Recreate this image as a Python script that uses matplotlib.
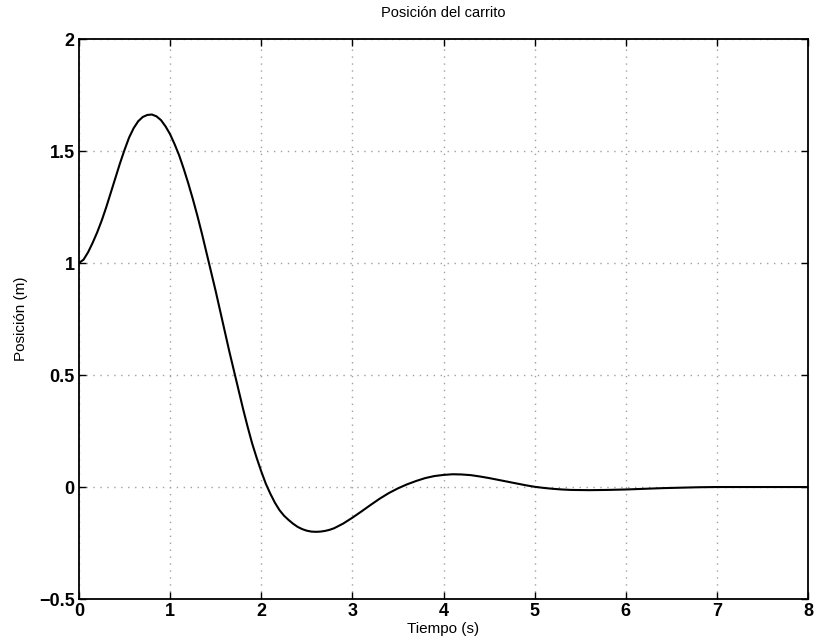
import matplotlib
matplotlib.use("Agg")
import matplotlib.pyplot as plt

# Cart position response
tiempo = [0.0, 0.05, 0.1, 0.15, 0.2, 0.25, 0.3, 0.35, 0.4, 0.45, 0.5, 0.55, 0.6,
          0.65, 0.7, 0.75, 0.8, 0.85, 0.9, 0.95, 1.0, 1.05, 1.1, 1.15, 1.2, 1.25,
          1.3, 1.35, 1.4, 1.45, 1.5, 1.55, 1.6, 1.65, 1.7, 1.75, 1.8, 1.85, 1.9,
          1.95, 2.0, 2.05, 2.1, 2.15, 2.2, 2.25, 2.3, 2.35, 2.4, 2.45, 2.5, 2.55,
          2.6, 2.65, 2.7, 2.75, 2.8, 2.9, 3.0, 3.1, 3.2, 3.3, 3.4, 3.5, 3.6, 3.7,
          3.8, 3.9, 4.0, 4.1, 4.2, 4.3, 4.4, 4.5, 4.6, 4.7, 4.8, 4.9, 5.0, 5.1,
          5.2, 5.3, 5.4, 5.6, 5.8, 6.0, 6.2, 6.4, 6.6, 6.8, 7.0, 7.5, 8.0]
posicion = [1.0, 1.015, 1.048, 1.09, 1.137, 1.19, 1.25, 1.315, 1.38, 1.445, 1.505,
            1.56, 1.602, 1.633, 1.652, 1.661, 1.663, 1.655, 1.638, 1.61, 1.575,
            1.53, 1.48, 1.42, 1.355, 1.285, 1.21, 1.13, 1.045, 0.96, 0.875, 0.785,
            0.695, 0.605, 0.52, 0.435, 0.35, 0.27, 0.195, 0.13, 0.07, 0.015, -0.03,
            -0.07, -0.103, -0.128, -0.147, -0.164, -0.178, -0.188, -0.195, -0.199,
            -0.2, -0.199, -0.196, -0.191, -0.184, -0.163, -0.137, -0.109, -0.08,
            -0.052, -0.027, -0.006, 0.012, 0.027, 0.04, 0.049, 0.054, 0.057, 0.056,
            0.053, 0.047, 0.04, 0.032, 0.024, 0.016, 0.008, 0.001, -0.004, -0.008,
            -0.011, -0.013, -0.014, -0.013, -0.011, -0.008, -0.005, -0.003, -0.001,
            0.0, 0.0, 0.0]

x_ticks = [0, 1, 2, 3, 4, 5, 6, 7, 8]
y_ticks = [-0.5, 0, 0.5, 1, 1.5, 2]
y_tick_labels = ["\u22120.5", "0", "0.5", "1", "1.5", "2"]

plt.rcParams['font.family'] = ['Liberation Sans', 'DejaVu Sans']

fig = plt.figure(figsize=(8.14, 6.43), dpi=100)
ax = fig.add_axes([0.097, 0.0684, 0.8957, 0.8709])

ax.plot(tiempo, posicion, color='black', linewidth=1.5)

ax.set_xlim(0, 8)
ax.set_ylim(-0.5, 2)
ax.set_xticks(x_ticks)
ax.set_xticklabels([str(v) for v in x_ticks])
ax.set_yticks(y_ticks)
ax.set_yticklabels(y_tick_labels)

ax.grid(True, linestyle=(0, (1, 4)), color='#a0a0a0', linewidth=1.0)
ax.tick_params(direction='in', length=5, width=1, top=True, right=True,
               labelsize=13, pad=3)
for lbl in ax.get_xticklabels() + ax.get_yticklabels():
    lbl.set_fontweight('bold')
for s in ax.spines.values():
    s.set_linewidth(1.3)
    s.set_color('black')

ax.set_title('Posición del carrito', fontsize=10.5, pad=16)
ax.set_xlabel('Tiempo (s)', fontsize=11, labelpad=1)
ax.set_ylabel('Posición (m)', fontsize=11, labelpad=8)

fig.savefig('out.png', dpi=100)
